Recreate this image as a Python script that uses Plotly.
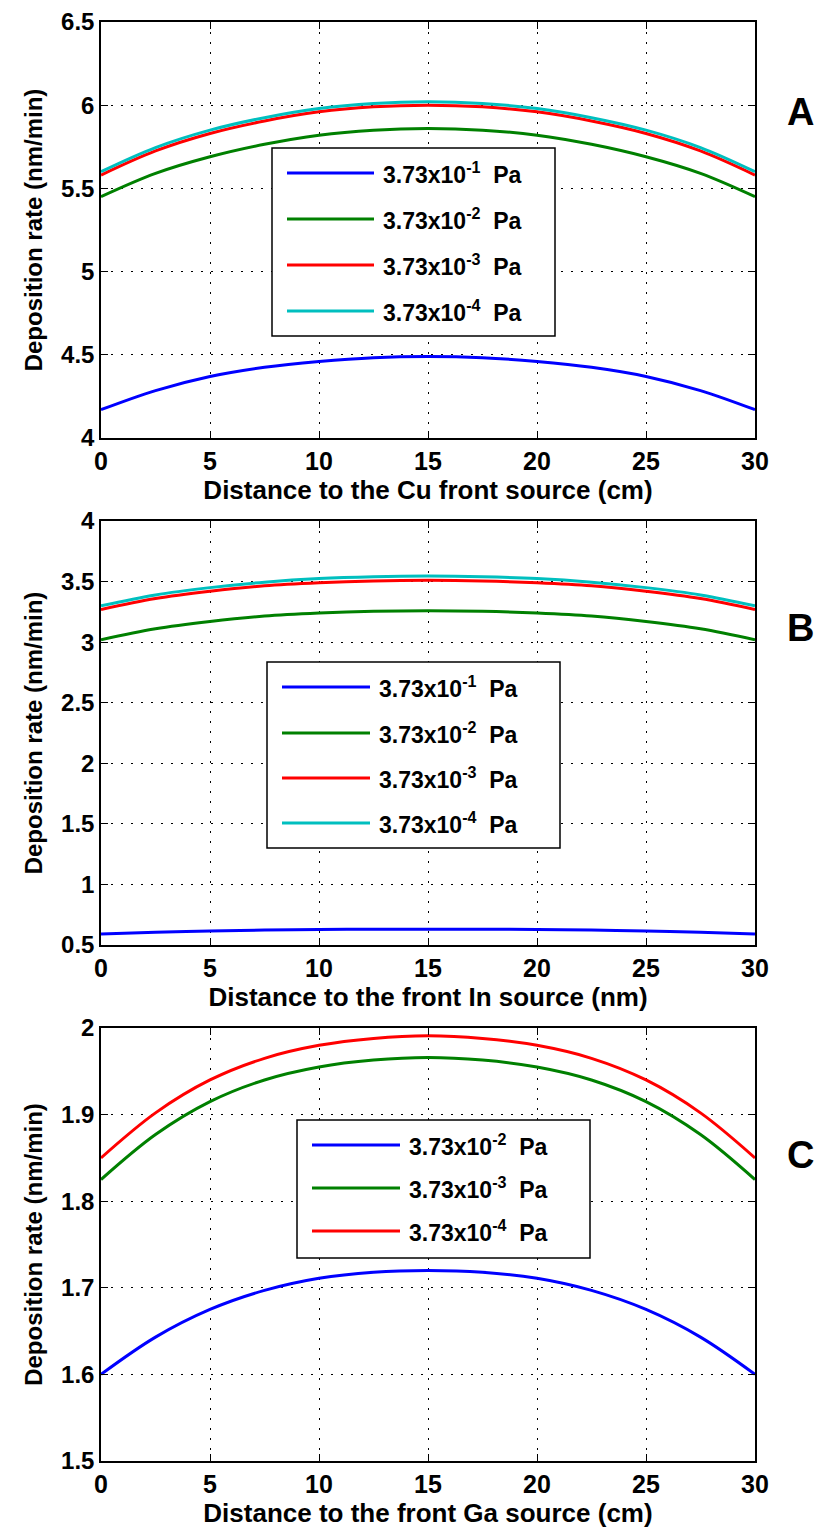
import plotly.graph_objects as go
from plotly.subplots import make_subplots

# ---------------- data ----------------
distance_cm = [0, 2.5, 5, 7.5, 10, 12.5, 15, 17.5, 20, 22.5, 25, 27.5, 30]

# Panel A (Cu)
cu_p1 = [4.17, 4.285, 4.37, 4.425, 4.46, 4.483, 4.49, 4.483, 4.46, 4.425, 4.37, 4.285, 4.17]
cu_p2 = [5.45, 5.59, 5.69, 5.765, 5.82, 5.85, 5.86, 5.85, 5.82, 5.765, 5.69, 5.59, 5.45]
cu_p3 = [5.58, 5.725, 5.83, 5.905, 5.96, 5.99, 6.00, 5.99, 5.96, 5.905, 5.83, 5.725, 5.58]
cu_p4 = [5.60, 5.745, 5.85, 5.925, 5.98, 6.01, 6.02, 6.01, 5.98, 5.925, 5.85, 5.745, 5.60]

# Panel B (In)
in_p1 = [0.59, 0.605, 0.615, 0.623, 0.628, 0.63, 0.63, 0.63, 0.628, 0.623, 0.615, 0.605, 0.59]
in_p2 = [3.02, 3.11, 3.17, 3.215, 3.24, 3.255, 3.26, 3.255, 3.24, 3.215, 3.17, 3.11, 3.02]
in_p3 = [3.27, 3.36, 3.42, 3.465, 3.49, 3.505, 3.51, 3.505, 3.49, 3.465, 3.42, 3.36, 3.27]
in_p4 = [3.30, 3.39, 3.45, 3.495, 3.525, 3.54, 3.545, 3.54, 3.525, 3.495, 3.45, 3.39, 3.30]

# Panel C (Ga)
ga_p2 = [1.600, 1.643, 1.675, 1.697, 1.711, 1.718, 1.720, 1.718, 1.711, 1.697, 1.675, 1.643, 1.600]
ga_p3 = [1.825, 1.877, 1.915, 1.940, 1.955, 1.963, 1.966, 1.963, 1.955, 1.940, 1.915, 1.877, 1.825]
ga_p4 = [1.850, 1.902, 1.940, 1.965, 1.980, 1.988, 1.991, 1.988, 1.980, 1.965, 1.940, 1.902, 1.850]

label_p1 = "3.73x10<sup>-1</sup>\u00a0\u00a0Pa"
label_p2 = "3.73x10<sup>-2</sup>\u00a0\u00a0Pa"
label_p3 = "3.73x10<sup>-3</sup>\u00a0\u00a0Pa"
label_p4 = "3.73x10<sup>-4</sup>\u00a0\u00a0Pa"

x_titles = ["Distance to the Cu front source (cm)",
            "Distance to the front In source (nm)",
            "Distance to the front Ga source (cm)"]
y_title = "Deposition rate (nm/min)"
panel_letters = ["A", "B", "C"]

# ---------------- layout geometry (pixels) ----------------
W, H = 819, 1529
L_PX, R_PX = 101, 755
TOP_PX, BOT_PX = 22, 1461
panels_px = [(22, 438), (521, 945), (1028, 1461)]
PH = BOT_PX - TOP_PX
PW = R_PX - L_PX


def py(ypx):
    return (BOT_PX - ypx) / PH


def px(xpx):
    return (xpx - L_PX) / PW


BLUE = "rgb(0,0,255)"
GREEN = "rgb(0,128,0)"
RED = "rgb(255,0,0)"
CYAN = "rgb(0,191,191)"

fig = make_subplots(rows=3, cols=1)

panel_series = [
    [(cu_p1, BLUE, label_p1), (cu_p2, GREEN, label_p2), (cu_p3, RED, label_p3), (cu_p4, CYAN, label_p4)],
    [(in_p1, BLUE, label_p1), (in_p2, GREEN, label_p2), (in_p3, RED, label_p3), (in_p4, CYAN, label_p4)],
    [(ga_p2, BLUE, label_p2), (ga_p3, GREEN, label_p3), (ga_p4, RED, label_p4)],
]

for i, series in enumerate(panel_series):
    for vals, col, name in series:
        fig.add_trace(go.Scatter(x=distance_cm, y=vals, mode="lines", name=name,
                                 line=dict(color=col, width=3, shape="spline", smoothing=1.0),
                                 showlegend=False), row=i + 1, col=1)

y_ranges = [(4, 6.5, 0.5), (0.5, 4, 0.5), (1.5, 2, 0.1)]

axis_common = dict(showline=True, linecolor="black", linewidth=1.5, mirror="allticks",
                   ticks="inside", ticklen=7, tickcolor="black", tickwidth=1.2,
                   showgrid=True, gridcolor="black", gridwidth=1, griddash="2px,8px",
                   zeroline=False)

FONT = "Liberation Sans, Arial, sans-serif"

for i in range(3):
    top, bot = panels_px[i]
    n = "" if i == 0 else str(i + 1)
    fig.layout["xaxis" + n].update(
        domain=[0, 1], range=[0, 30], dtick=5, tick0=0,
        tickfont=dict(family=FONT, size=25, color="black", weight="bold"),
        title=dict(text=x_titles[i], standoff=6,
                   font=dict(family=FONT, size=26, color="black", weight="bold")),
        **axis_common)
    lo, hi, dt = y_ranges[i]
    fig.layout["yaxis" + n].update(
        domain=[py(bot), py(top)], range=[lo, hi], dtick=dt, tick0=lo,
        tickfont=dict(family=FONT, size=24, color="black", weight="bold"),
        title=dict(text=y_title, standoff=12,
                   font=dict(family=FONT, size=24, color="black", weight="bold")),
        **axis_common)

# ---------------- custom legends ----------------
legend_boxes = [
    dict(left=272, right=555, top=148, bottom=336, line_x0=287, line_x1=374, text_x=381,
         rows=[173, 219, 265, 311]),
    dict(left=267, right=560, top=662, bottom=848, line_x0=282, line_x1=370, text_x=377,
         rows=[687, 733, 778, 823]),
    dict(left=297, right=590, top=1120, bottom=1258, line_x0=312, line_x1=400, text_x=407,
         rows=[1145, 1188, 1231]),
]

for i, box in enumerate(legend_boxes):
    fig.add_shape(type="rect", xref="paper", yref="paper",
                  x0=px(box["left"]), x1=px(box["right"]), y0=py(box["bottom"]), y1=py(box["top"]),
                  line=dict(color="black", width=1.5), fillcolor="white", layer="above")
    for (vals, col, name), rpx in zip(panel_series[i], box["rows"]):
        fig.add_shape(type="line", xref="paper", yref="paper",
                      x0=px(box["line_x0"]), x1=px(box["line_x1"]), y0=py(rpx), y1=py(rpx),
                      line=dict(color=col, width=3), layer="above")
        fig.add_annotation(xref="paper", yref="paper", x=px(box["text_x"]), y=py(rpx),
                           text=name, showarrow=False, xanchor="left", yanchor="middle",
                           font=dict(family=FONT, size=23, color="black", weight="bold"))

# panel letters
letter_y = [112, 628, 1155]
for letter, ly in zip(panel_letters, letter_y):
    fig.add_annotation(xref="paper", yref="paper", x=px(800), y=py(ly), text=letter,
                       showarrow=False, xanchor="center", yanchor="middle",
                       font=dict(family=FONT, size=38, color="black", weight="bold"))

fig.update_layout(width=W, height=H, plot_bgcolor="white", paper_bgcolor="white",
                  margin=dict(l=L_PX, r=W - R_PX, t=TOP_PX, b=H - BOT_PX, autoexpand=False),
                  showlegend=False)

fig.write_html("out.html")
